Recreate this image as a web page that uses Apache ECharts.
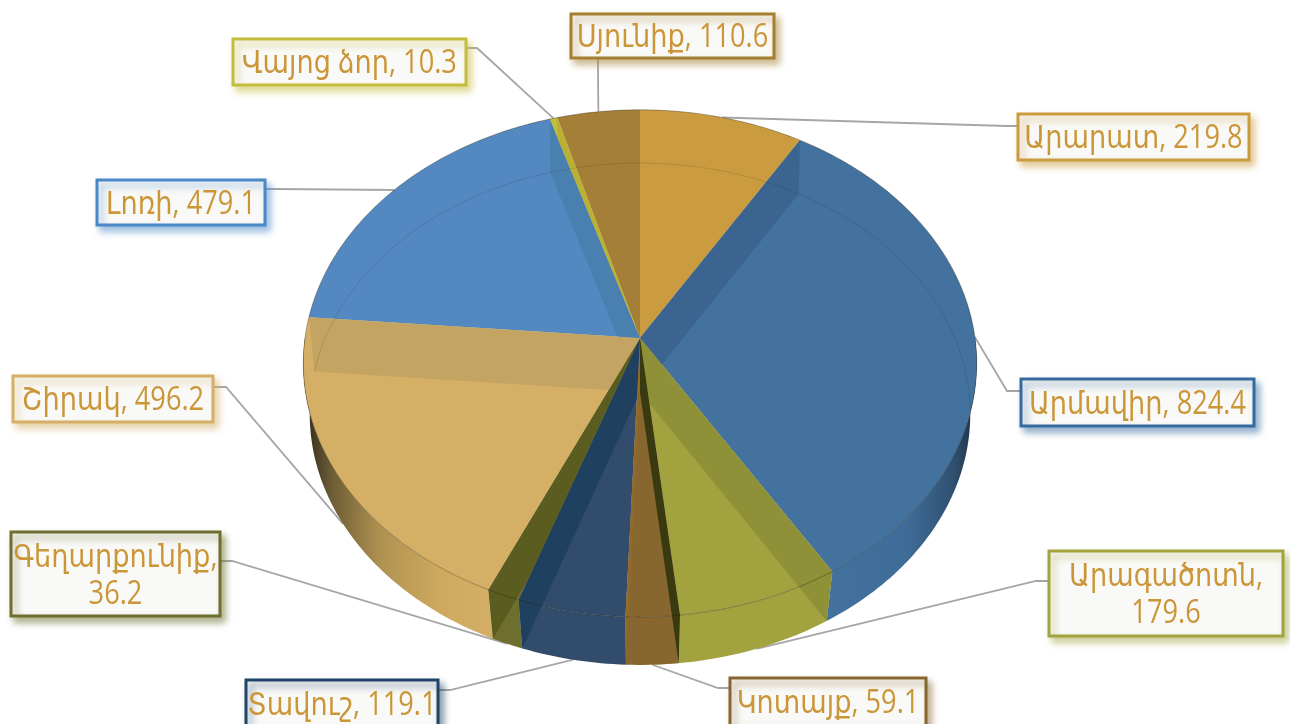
<!DOCTYPE html>
<html><head><meta charset="utf-8">
<style>html,body{margin:0;padding:0;background:#fff;overflow:hidden}#c{width:1290px;height:724px}</style>
<script src="https://cdn.jsdelivr.net/npm/echarts@6/dist/echarts.min.js"></script>
</head><body><div id="c"></div>
<script>
// ---- data ----
const categories = ['Արարատ','Արմավիր','Արագածոտն','Կոտայք','Տավուշ','Գեղարքունիք','Շիրակ','Լոռի','Վայոց ձոր','Սյունիք'];
const values = [219.8,824.4,179.6,59.1,119.1,36.2,496.2,479.1,10.3,110.6];
// ---- styles ----
const faceColors = ['#CB9C3F','#43729F','#A2A33F','#87672F','#324D6C','#6E6F2E','#D4AF65','#5488C0','#C4BC3C','#A57F38'];
const wallStart = [null,'#3B6590','#8E9138','#3A3A10',null,null,null,null,null,null];
const wallEnd   = [null,null,null,'#93692A','#20405F','#5B5D20','#C4A463','#4A80B0','#B9B035',null];
const borderColors = ['#CB9C3F','#356A9F','#A2A33F','#87672F','#1F4468','#6E6F2E','#D4AF65','#4A88C8','#C4BC3C','#A57F30'];
const textColor = '#CB9638';
const boxes = [
 [1017,113,233,48],[1020,378,235,49],[1048,550,236,87],[729,677,198,50],[245,679,194,50],
 [10,531,211,86],[12,375,202,48],[96,179,170,47],[232,38,235,48],[570,13,205,46]];
const leaderStart = [[1017,126],[1020,391],[1048,581],[729,688],[439,690],[221,561],[214,387],[266,189],[467,48],[598,59]];
const leaderElbow = [[1007,126],[1007,391],[1036,581],[718,688],[450,690],[232,561],[226,387],[276,189],[477,48],[598,70]];
const wrapLabel = [0,0,1,0,0,1,0,0,0,0];
const topRim = {x:640,c:338,a:251,k:.1,b:335};
const botRim = {x:640,c:392,a:249,k:.0876,b:329};
const gradients = {
 1:[[0,'#43729F'],[.55,'#3E6B97'],[.85,'#30506F'],[1,'#1E2E44']],
 6:[[0,'#2E2818'],[.14,'#6A5A34'],[.4,'#AE9150'],[.7,'#CDA85E'],[1,'#D4AF65']]
};
// ---- geometry ----
const total = values.reduce((a,b)=>a+b,0);
let cum = 0;
const spans = values.map(v=>{const s=cum/total*360;cum+=v;return [s,cum/total*360];});
function pt(deg,r){const t=deg*Math.PI/180,u=Math.sin(t),v=-Math.cos(t),d=1-r.k*v;return [r.x+r.b*u/d,r.c+r.a*v/d];}
function arc(a,b,r){const out=[],n=Math.max(2,Math.ceil(Math.abs(b-a)));for(let i=0;i<=n;i++)out.push(pt(a+(b-a)*i/n,r));return out;}
const apexT=[topRim.x,topRim.c], apexB=[botRim.x,botRim.c];
function clip(poly,a,b,inside){ // keep the side of line a-b that holds point 'inside'
 const side=p=>(b[0]-a[0])*(p[1]-a[1])-(b[1]-a[1])*(p[0]-a[0]);
 const sgn=Math.sign(side(inside))||1,out=[];
 for(let i=0;i<poly.length;i++){
  const p=poly[i],q=poly[(i+1)%poly.length],sp=side(p)*sgn,sq=side(q)*sgn;
  if(sp>=0)out.push(p);
  if(sp*sq<0){const t=sp/(sp-sq);out.push([p[0]+(q[0]-p[0])*t,p[1]+(q[1]-p[1])*t]);}
 }
 return out;
}
function wallIn(i,deg){
 const [s,e]=spans[i],mid=pt((s+e)/2,topRim);
 let q=[apexT,pt(deg,topRim),pt(deg,botRim),apexB];
 q=clip(q,apexT,pt(s,topRim),mid);
 if(q.length)q=clip(q,apexT,pt(e,topRim),mid);
 return q;
}
function labelElements(i){
 const b=boxes[i],c=borderColors[i];
 return [
  {type:'rect',shape:{x:b[0]+1,y:b[1]+1,width:b[2]-2,height:b[3]-2},
   style:{fill:'#F9F9F7',stroke:c,lineWidth:3,shadowBlur:7,shadowOffsetX:4,shadowOffsetY:5,shadowColor:c+'88'}},
  {type:'text',x:b[0]+b[2]/2,y:b[1]+b[3]/2+2,scaleX:.85,
   style:{text:categories[i]+','+(wrapLabel[i]?'\n':' ')+values[i].toFixed(1),fill:textColor,align:'center',verticalAlign:'middle',
          font:'400 32px "Open Sans","Noto Sans","DejaVu Sans",sans-serif',lineHeight:37}}
 ];
}
const layer = fn => ({type:'custom',coordinateSystem:'none',silent:true,animation:false,clip:false,
  data:values.map((v,i)=>[i,v]),renderItem:(p,api)=>fn(api.value(0))});
const backSpans = [[0,95],[275,360]];
const series = [
 // leaders
 layer(i=>({type:'polyline',shape:{points:[leaderStart[i],leaderElbow[i],pt((spans[i][0]+spans[i][1])/2,(i<=1||i>6)?topRim:botRim)]},
   style:{stroke:'#A6A6A6',lineWidth:1.8,fill:null}})),
 // outer side strips
 layer(i=>{
   const s=Math.max(spans[i][0],90),e=Math.min(spans[i][1],270);
   if(e<=s)return null;
   const pts=arc(s,e,topRim).concat(arc(e,s,botRim));
   const g=gradients[i];
   return {type:'polygon',shape:{points:pts},style:{
     fill:g?new echarts.graphic.LinearGradient(0,0,1,0,g.map(c=>({offset:c[0],color:c[1]}))):faceColors[i]}};
 }),
 // top faces
 layer(i=>({type:'polygon',shape:{points:[apexT].concat(arc(spans[i][0],spans[i][1],topRim))},style:{fill:faceColors[i]}})),
 // inner walls seen through the glassy top
 layer(i=>{
   const ch=[];
   const sc=wallStart[i], ec=wallEnd[i];
   if(sc){const q=wallIn(i,spans[i][0]);if(q.length>2)ch.push({type:'polygon',shape:{points:q},style:{fill:sc}});}
   if(ec){const q=wallIn(i,spans[i][1]);if(q.length>2)ch.push({type:'polygon',shape:{points:q},style:{fill:ec}});}
   return {type:'group',children:ch};
 }),
 // rims: the top rim all round, the bottom rim only on its far half
 layer(i=>{
   const ch=[{type:'polyline',shape:{points:arc(spans[i][0],spans[i][1],topRim)},style:{stroke:'rgba(30,25,10,.34)',lineWidth:1,fill:null}}];
   backSpans.forEach(b=>{
     const s=Math.max(spans[i][0],b[0]),e=Math.min(spans[i][1],b[1]);
     if(e>s)ch.push({type:'polyline',shape:{points:arc(s,e,botRim)},style:{stroke:'rgba(30,25,10,.13)',lineWidth:1,fill:null}});
   });
   return {type:'group',children:ch};
 }),
 // labels
 layer(i=>({type:'group',children:labelElements(i)}))
];
const chart = echarts.init(document.getElementById('c'),null,{renderer:'canvas'});
chart.setOption({animation:false,backgroundColor:'#fff',series});
</script></body></html>
